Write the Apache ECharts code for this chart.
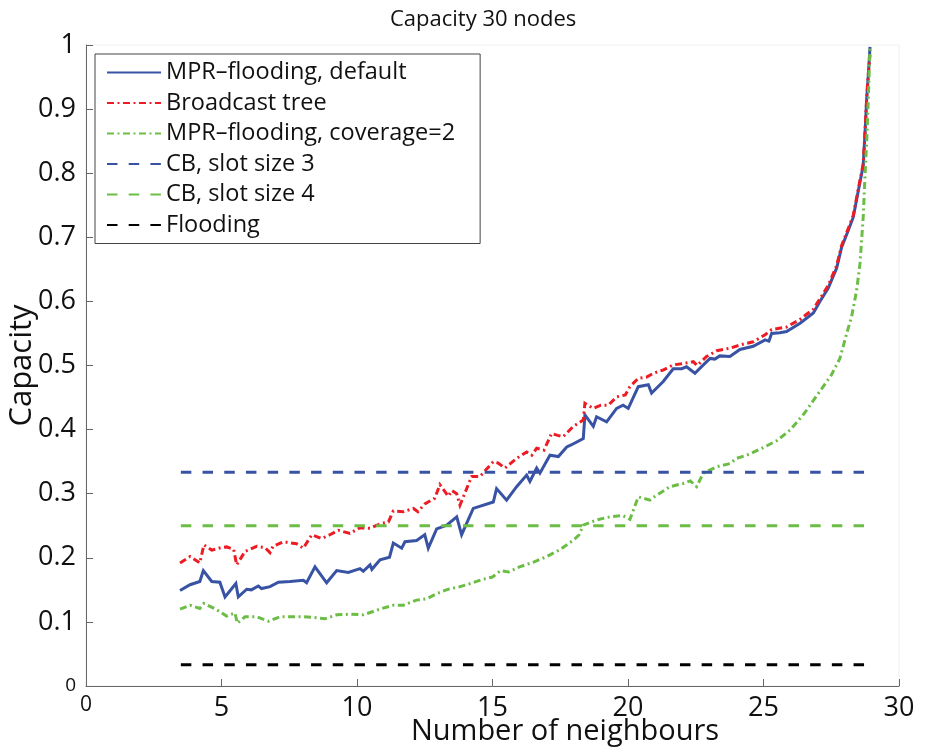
<!DOCTYPE html>
<html>
<head>
<meta charset="utf-8">
<title>Capacity 30 nodes</title>
<script src="https://cdn.jsdelivr.net/npm/echarts@6/dist/echarts.min.js"></script>
<style>
  html, body { margin: 0; padding: 0; background: #fff; }
  #chart { width: 929px; height: 749px; }
</style>
</head>
<body>
<div id="chart"></div>
<script>
// Capacity vs. number of neighbours, [neighbours, capacity] pairs
var mprDefault = [
  [3.47,0.149],[3.84,0.158],[4.2,0.163],[4.33,0.180],[4.64,0.163],[4.94,0.162],[5.13,0.139],
  [5.53,0.160],[5.62,0.139],[5.93,0.151],[6.1,0.150],[6.36,0.156],[6.48,0.152],[6.79,0.155],
  [7.1,0.162],[7.53,0.163],[8.02,0.165],[8.14,0.161],[8.45,0.186],[8.88,0.161],[9.25,0.180],
  [9.68,0.177],[10.11,0.183],[10.23,0.179],[10.48,0.189],[10.55,0.182],[10.85,0.197],[11.2,0.201],
  [11.34,0.223],[11.65,0.215],[11.77,0.225],[12.2,0.227],[12.5,0.236],[12.63,0.215],[12.94,0.245],
  [13.31,0.251],[13.68,0.264],[13.86,0.236],[14.29,0.277],[15.03,0.287],[15.15,0.308],[15.52,0.290],
  [15.89,0.311],[16.26,0.329],[16.38,0.319],[16.63,0.340],[16.75,0.332],[17.12,0.360],[17.43,0.358],
  [17.74,0.373],[17.9,0.376],[18.35,0.386],[18.41,0.423],[18.72,0.405],[18.84,0.420],[19.21,0.412],
  [19.58,0.433],[19.82,0.438],[20.01,0.433],[20.38,0.467],[20.75,0.470],[20.87,0.457],[21.18,0.470],
  [21.3,0.475],[21.67,0.495],[21.98,0.495],[22.16,0.498],[22.47,0.488],[22.78,0.501],[23.03,0.511],
  [23.2,0.510],[23.39,0.515],[23.76,0.514],[24.13,0.525],[24.62,0.530],[25.06,0.540],[25.2,0.538],
  [25.3,0.550],[25.6,0.551],[25.85,0.553],[26.35,0.566],[26.84,0.582],[27.08,0.600],[27.39,0.621],
  [27.7,0.652],[27.88,0.684],[28.13,0.711],[28.31,0.731],[28.5,0.773],[28.68,0.812],[28.75,0.866],
  [28.81,0.918],[28.87,0.955],[28.93,0.997]
];

var broadcastTree = [
  [3.47,0.192],[3.84,0.202],[4.2,0.192],[4.35,0.220],[4.64,0.212],[5.0,0.216],[5.19,0.217],
  [5.45,0.213],[5.56,0.189],[5.87,0.210],[6.3,0.218],[6.6,0.216],[6.79,0.208],[6.9,0.218],
  [7.28,0.225],[7.77,0.222],[8.02,0.215],[8.33,0.236],[8.69,0.230],[9.0,0.236],[9.31,0.243],
  [9.74,0.238],[10.11,0.247],[10.48,0.246],[10.85,0.253],[11.16,0.256],[11.34,0.273],[11.71,0.272],
  [12.08,0.277],[12.25,0.272],[12.5,0.284],[12.87,0.293],[13.06,0.314],[13.37,0.296],[13.5,0.305],
  [13.68,0.300],[13.8,0.282],[14.23,0.327],[14.54,0.327],[15.03,0.350],[15.2,0.348],[15.46,0.340],
  [15.89,0.355],[16.26,0.365],[16.45,0.360],[16.63,0.371],[16.9,0.368],[17.18,0.394],[17.4,0.391],
  [17.61,0.389],[17.98,0.405],[18.35,0.415],[18.41,0.441],[18.72,0.433],[19.0,0.438],[19.27,0.438],
  [19.58,0.451],[19.9,0.454],[20.07,0.467],[20.38,0.480],[20.69,0.482],[20.94,0.488],[21.3,0.493],
  [21.67,0.501],[22.04,0.503],[22.41,0.506],[22.55,0.500],[22.9,0.514],[23.27,0.523],[23.76,0.527],
  [24.13,0.532],[24.62,0.537],[25.06,0.548],[25.3,0.556],[25.85,0.560],[26.35,0.572],[26.84,0.588],
  [27.08,0.604],[27.39,0.625],[27.7,0.656],[27.88,0.687],[28.13,0.714],[28.31,0.734],[28.5,0.776],
  [28.68,0.815],[28.75,0.868],[28.81,0.920],[28.87,0.956],[28.93,0.985]
];

var mprCoverage2 = [
  [3.47,0.120],[3.84,0.126],[4.2,0.121],[4.35,0.129],[4.82,0.119],[5.19,0.109],[5.5,0.114],
  [5.58,0.098],[5.87,0.108],[6.3,0.108],[6.73,0.101],[7.16,0.108],[7.65,0.108],[8.0,0.108],
  [8.39,0.107],[8.82,0.105],[9.25,0.111],[9.74,0.112],[10.23,0.111],[10.85,0.120],[11.34,0.126],
  [11.71,0.126],[12.2,0.134],[12.57,0.136],[12.94,0.144],[13.37,0.151],[13.8,0.155],[14.2,0.160],
  [14.6,0.166],[15.0,0.170],[15.3,0.180],[15.6,0.178],[16.0,0.186],[16.5,0.193],[17.0,0.202],
  [17.5,0.213],[18.0,0.228],[18.2,0.236],[18.35,0.251],[18.84,0.259],[19.34,0.264],[19.8,0.266],
  [20.07,0.260],[20.38,0.295],[20.81,0.290],[21.0,0.296],[21.55,0.311],[22.04,0.316],[22.3,0.320],
  [22.53,0.311],[22.78,0.332],[23.27,0.342],[23.76,0.347],[24.0,0.355],[24.5,0.362],[25.0,0.372],
  [25.5,0.383],[26.0,0.400],[26.5,0.425],[27.0,0.455],[27.5,0.485],[27.82,0.511],[28.07,0.550],
  [28.25,0.576],[28.44,0.618],[28.56,0.659],[28.68,0.732],[28.75,0.800],[28.81,0.852],[28.87,0.919],
  [28.93,0.997]
];

// Constant reference capacities over the neighbour range
var refSpan = [3.5, 29];
var cbSlot3 = 1 / 3;
var cbSlot4 = 1 / 4;
var flooding = 1 / 30;

var seriesNames = [
  'MPR\u2013flooding, default',
  'Broadcast tree',
  'MPR\u2013flooding, coverage=2',
  'CB, slot size 3',
  'CB, slot size 4',
  'Flooding'
];

var xTicks = [0, 5, 10, 15, 20, 25, 30];
var yTicks = [0, 0.1, 0.2, 0.3, 0.4, 0.5, 0.6, 0.7, 0.8, 0.9, 1];

var BLUE = '#3853a4', RED = '#ed1c24', GREEN = '#6cbd45', BLACK = '#000000';
var FONT = 'Open Sans';
var dashDot = [7, 3.5, 2, 3.5];
var dashed = [10.5, 11.2];

function flat(v) { return refSpan.map(function (x) { return [x, v]; }); }

function lineSeries(name, data, color, type) {
  return {
    name: name,
    type: 'line',
    data: data,
    symbol: 'none',
    silent: true,
    lineStyle: { color: color, width: 3, type: type, cap: 'butt', join: 'miter' },
    itemStyle: { color: color },
    z: 2
  };
}

var chart = echarts.init(document.getElementById('chart'), null, { renderer: 'canvas' });

chart.setOption({
  animation: false,
  backgroundColor: '#ffffff',
  title: {
    text: 'Capacity 30 nodes',
    left: 385,
    top: 4,
    textStyle: { fontFamily: FONT, fontSize: 22, fontWeight: 'normal', color: '#111' }
  },
  grid: {
    left: 86, right: 30, top: 45, bottom: 63,
    containLabel: false,
    outerBoundsMode: 'none',
    show: true, borderColor: '#efefef', borderWidth: 1
  },
  legend: {
    orient: 'vertical',
    left: 95,
    top: 54,
    itemWidth: 54,
    itemHeight: 14,
    itemGap: 5.5,
    itemTextGap: 6,
    padding: [6, 25, 6, 11],
    borderColor: '#444',
    borderWidth: 1,
    backgroundColor: '#ffffff',
    selectedMode: false,
    itemStyle: { opacity: 0, borderWidth: 0 },
    textStyle: { fontFamily: FONT, fontSize: 23.5, color: '#111', lineHeight: 25 },
    data: seriesNames
  },
  xAxis: {
    type: 'value',
    min: xTicks[0],
    max: xTicks[xTicks.length - 1],
    interval: xTicks[1] - xTicks[0],
    name: 'Number of neighbours',
    nameLocation: 'middle',
    nameGap: 31,
    nameMoveOverlap: false,
    nameTextStyle: { fontFamily: FONT, fontSize: 29, color: '#111', padding: [0, 0, 0, 145] },
    axisLine: { show: true, lineStyle: { color: '#666', width: 1 } },
    axisTick: { show: true, inside: true, length: 7, lineStyle: { color: '#666' } },
    splitLine: { show: false },
    axisLabel: {
      margin: 9,
      fontFamily: FONT, fontSize: 27, color: '#111',
      formatter: function (v) { return v === 0 ? '{s|0}' : String(v); },
      rich: { s: { fontFamily: FONT, fontSize: 21, color: '#111' } }
    }
  },
  yAxis: {
    type: 'value',
    min: yTicks[0],
    max: yTicks[yTicks.length - 1],
    interval: 0.1,
    name: 'Capacity',
    nameLocation: 'middle',
    nameGap: 48,
    nameMoveOverlap: false,
    nameTextStyle: { fontFamily: FONT, fontSize: 31, color: '#111' },
    axisLine: { show: true, lineStyle: { color: '#666', width: 1 } },
    axisTick: { show: true, inside: true, length: 7, lineStyle: { color: '#666' } },
    splitLine: { show: false },
    axisLabel: {
      margin: 10,
      fontFamily: FONT, fontSize: 27, color: '#111',
      formatter: function (v) {
        if (v === 0) return '{s|0}';
        if (Math.abs(v - 1) < 1e-9) return '1';
        return v.toFixed(1);
      },
      rich: { s: { fontFamily: FONT, fontSize: 19, color: '#111' } }
    }
  },
  series: [
    lineSeries(seriesNames[0], mprDefault, BLUE, 'solid'),
    lineSeries(seriesNames[1], broadcastTree, RED, dashDot),
    lineSeries(seriesNames[2], mprCoverage2, GREEN, dashDot),
    lineSeries(seriesNames[3], flat(cbSlot3), BLUE, dashed),
    lineSeries(seriesNames[4], flat(cbSlot4), GREEN, dashed),
    lineSeries(seriesNames[5], flat(flooding), BLACK, dashed)
  ]
});
</script>
</body>
</html>
